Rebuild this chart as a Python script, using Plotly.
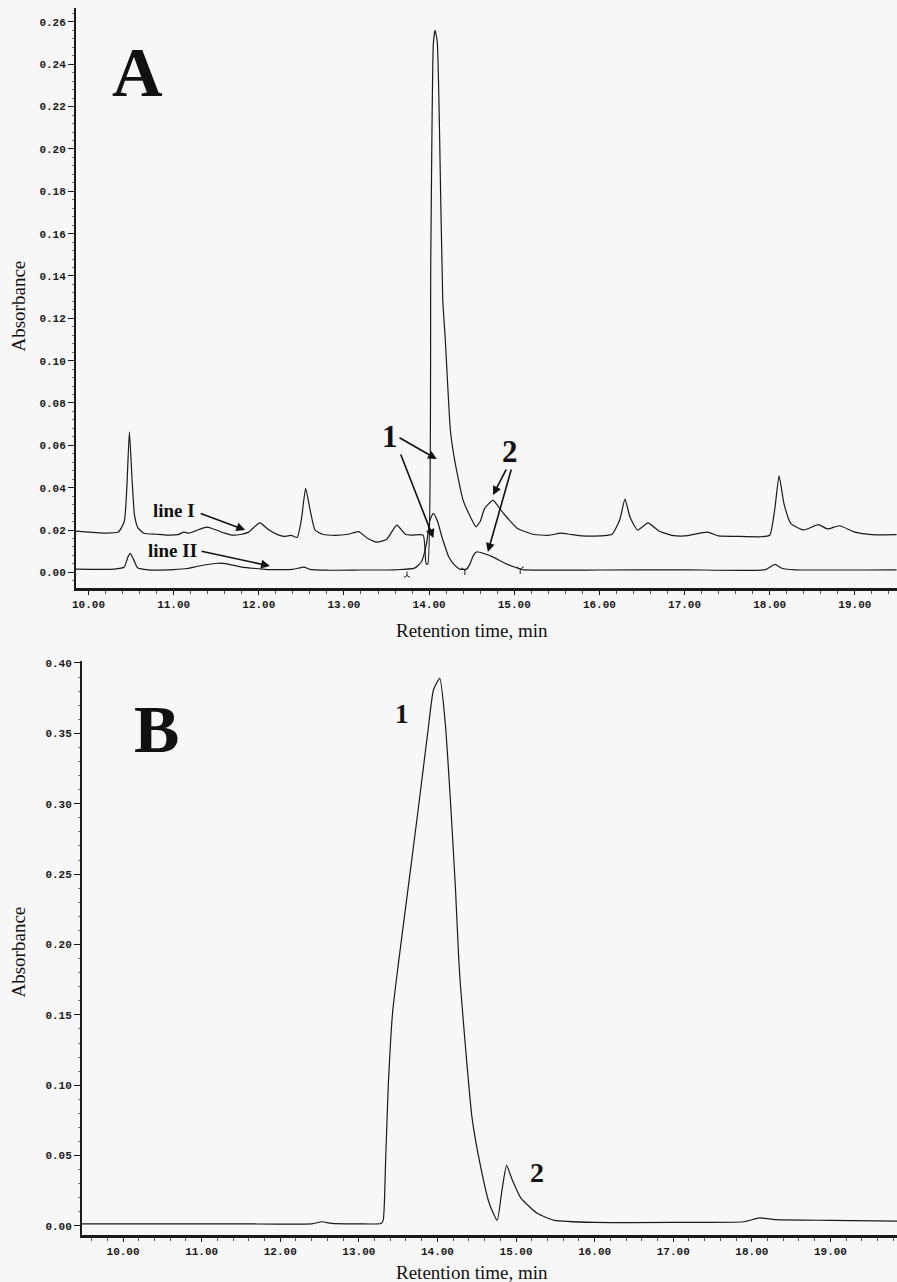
import plotly.graph_objects as go

# ---------------- Panel A data (retention time, min / absorbance) ----------------
a_time_I = [9.85, 10.0, 10.2, 10.35, 10.42, 10.45, 10.48, 10.51, 10.54, 10.58, 10.65, 10.8, 10.92,
            11.05, 11.12, 11.18, 11.25, 11.39, 11.5, 11.6, 11.68, 11.8, 11.88, 12.01, 12.12, 12.22,
            12.3, 12.38, 12.45, 12.5, 12.55, 12.6, 12.66, 12.75, 12.9, 13.05, 13.17, 13.28, 13.39,
            13.5, 13.62, 13.72, 13.8, 13.93, 13.965, 13.985, 14.02, 14.05, 14.07, 14.095, 14.12, 14.16,
            14.19, 14.25, 14.3, 14.4, 14.5, 14.55, 14.6, 14.65, 14.75, 14.87, 15.03, 15.22, 15.4,
            15.55, 15.65, 15.8, 16.0, 16.15, 16.24, 16.3, 16.36, 16.45, 16.57, 16.7, 16.85, 17.0,
            17.27, 17.4, 17.6, 17.9, 18.0, 18.06, 18.11, 18.17, 18.25, 18.4, 18.57, 18.68, 18.82,
            19.0, 19.2, 19.49]
a_abs_I = [0.0195, 0.019, 0.0185, 0.019, 0.024, 0.040, 0.0664, 0.045, 0.027, 0.021, 0.0185, 0.018, 0.0176,
           0.0178, 0.019, 0.0185, 0.0195, 0.0214, 0.020, 0.0185, 0.0176, 0.018, 0.019, 0.0234, 0.020, 0.0178,
           0.017, 0.0175, 0.0165, 0.025, 0.0397, 0.030, 0.020, 0.018, 0.0175, 0.018, 0.0192, 0.016, 0.0143,
           0.0155, 0.0223, 0.018, 0.0176, 0.0176, 0.004, 0.004, 0.15, 0.25, 0.256, 0.251, 0.2136, 0.129,
           0.110, 0.067, 0.053, 0.034, 0.025, 0.0215, 0.024, 0.030, 0.034, 0.028, 0.021, 0.018, 0.0175,
           0.0185, 0.018, 0.0172, 0.0172, 0.018, 0.025, 0.0346, 0.026, 0.020, 0.0234, 0.0195, 0.0175, 0.0172,
           0.019, 0.0172, 0.017, 0.0168, 0.0175, 0.030, 0.0456, 0.032, 0.023, 0.020, 0.0225, 0.0205, 0.022,
           0.019, 0.0178, 0.0178]

a_time_II = [9.85, 10.3, 10.42, 10.46, 10.49, 10.53, 10.58, 10.7, 11.0, 11.16, 11.3, 11.52, 11.65, 11.8,
             12.0, 12.1, 12.4, 12.53, 12.6, 12.8, 13.2, 13.6, 13.83, 13.91, 13.97, 14.01, 14.05, 14.1,
             14.15, 14.23, 14.3, 14.36, 14.44, 14.48, 14.52, 14.56, 14.65, 14.74, 14.89, 15.0, 15.1,
             16.0, 17.0, 17.95, 18.06, 18.15, 18.3, 19.49]
a_abs_II = [0.0015, 0.0015, 0.0025, 0.007, 0.009, 0.006, 0.002, 0.0012, 0.0013, 0.0018, 0.003, 0.0043, 0.0038, 0.0025,
            0.0017, 0.0013, 0.0014, 0.0025, 0.0014, 0.001, 0.0011, 0.0012, 0.002, 0.005, 0.0137, 0.0247, 0.0279, 0.024,
            0.0168, 0.0074, 0.0034, 0.0015, 0.0015, 0.004, 0.008, 0.0097, 0.0088, 0.0074, 0.0043, 0.0025, 0.0013,
            0.0011, 0.0012, 0.0013, 0.0038, 0.0018, 0.0012, 0.0012]

# integration marks on line II
a_mark_caret_t = [13.74]
a_mark_caret_v = [-0.0015]
a_mark_y_t = [14.42, 15.07]
a_mark_y_v = [0.0010, 0.0015]

# ---------------- Panel B data ----------------
b_time = [9.478, 10.5, 11.5, 12.4, 12.53, 12.65, 13.0, 13.28, 13.31, 13.34, 13.375, 13.43, 13.5, 13.65,
          13.76, 13.88, 13.95, 14.03, 14.1, 14.17, 14.23, 14.27, 14.29, 14.36, 14.44, 14.55, 14.66,
          14.76, 14.82, 14.88, 14.95, 15.06, 15.27, 15.49, 16.0, 17.0, 17.9, 18.1, 18.3, 19.0, 19.847]
b_abs = [0.0015, 0.0015, 0.0015, 0.0015, 0.003, 0.0018, 0.0015, 0.0018, 0.004, 0.045, 0.10, 0.152, 0.185, 0.25,
         0.298, 0.352, 0.381, 0.389, 0.357, 0.298, 0.239, 0.191, 0.173, 0.125, 0.077, 0.042, 0.016,
         0.004, 0.025, 0.043, 0.033, 0.020, 0.009, 0.004, 0.0025, 0.0025, 0.003, 0.0057, 0.0045, 0.004, 0.0035]

# ---------------- figure ----------------
W, H = 897, 1282
LINE = "#1a1a1a"
BG = "#f7f7f7"
TICKFONT = dict(family="Liberation Mono, Courier New, monospace", size=11, color="#1a1a1a", weight="bold")
SERIF = "Liberation Serif, Times New Roman, serif"

fig = go.Figure()
fig.add_trace(go.Scatter(x=a_time_I, y=a_abs_I, mode="lines", xaxis="x", yaxis="y",
                         line=dict(color=LINE, width=1.2, shape="spline", smoothing=0.5)))
fig.add_trace(go.Scatter(x=a_time_II, y=a_abs_II, mode="lines", xaxis="x", yaxis="y",
                         line=dict(color=LINE, width=1.2, shape="spline", smoothing=0.5)))
fig.add_trace(go.Scatter(x=a_mark_caret_t, y=a_mark_caret_v, mode="markers", xaxis="x", yaxis="y",
                         marker=dict(symbol="y-up", size=5, line=dict(color=LINE, width=1), color=LINE)))
fig.add_trace(go.Scatter(x=a_mark_y_t, y=a_mark_y_v, mode="markers", xaxis="x", yaxis="y",
                         marker=dict(symbol="y-down", size=6, line=dict(color=LINE, width=1), color=LINE)))
fig.add_trace(go.Scatter(x=b_time, y=b_abs, mode="lines", xaxis="x2", yaxis="y2",
                         line=dict(color=LINE, width=1.2, shape="spline", smoothing=0.5)))

def xax(domain, rng):
    return dict(domain=domain, range=rng, showgrid=False, zeroline=False, showline=True,
                automargin=False,
                linecolor=LINE, linewidth=3, ticks="outside", ticklen=4, tickwidth=1,
                tickcolor=LINE, dtick=1, tick0=10, tickformat=".2f", tickfont=TICKFONT,
                minor=dict(dtick=0.2, ticks="outside", ticklen=3, tickwidth=1, tickcolor="#555"))

def yax(domain, rng, dtick, minor):
    return dict(domain=domain, range=rng, showgrid=False, zeroline=False, showline=True,
                automargin=False,
                linecolor=LINE, linewidth=2, ticks="outside", ticklen=6, tickwidth=1,
                tickcolor=LINE, dtick=dtick, tick0=0, tickformat=".2f", tickfont=TICKFONT,
                minor=dict(dtick=minor, ticks="outside", ticklen=2, tickwidth=1, tickcolor="#777"))

fig.update_layout(
    width=W, height=H, margin=dict(l=0, r=0, t=0, b=0, autoexpand=False),
    paper_bgcolor=BG, plot_bgcolor=BG, showlegend=False,
    xaxis=dict(xax([76 / W, 1.0], [9.853, 19.495]), anchor="y"),
    yaxis=dict(yax([1 - 588 / H, 1 - 8 / H], [-0.0074, 0.2666], 0.02, 0.004), anchor="x"),
    xaxis2=dict(xax([82 / W, 1.0], [9.478, 19.847]), anchor="y2"),
    yaxis2=dict(yax([1 - 1235 / H, 1 - 661 / H], [-0.0064, 0.4014], 0.05, 0.01), anchor="x2"),
)

ann = []
# Axis titles
for yc in (306, 952):
    ann.append(dict(text="Absorbance", x=17.5 / W, y=1 - yc / H, xref="paper", yref="paper",
                    xanchor="center", yanchor="middle",
                    textangle=-90, showarrow=False, font=dict(family=SERIF, size=19, color="#111")))
for yc in (631, 1272):
    ann.append(dict(text="Retention time, min", x=472 / W, y=1 - yc / H, xref="paper", yref="paper",
                    xanchor="center", yanchor="middle",
                    showarrow=False, font=dict(family=SERIF, size=19, color="#111")))

# Panel letters and peak numbers
bold = dict(family=SERIF, color="#111")
def label(text, x, y, size, xr="x", yr="y"):
    ann.append(dict(text=text, x=x, y=y, xref=xr, yref=yr, showarrow=False,
                    xanchor="center", yanchor="middle", font=dict(size=size, **bold)))

label("<b>A</b>", 10.57, 0.236, 70)
label("<b>B</b>", 10.42, 0.353, 68, "x2", "y2")
label("<b>1</b>", 13.54, 0.064, 31)
label("<b>2</b>", 14.95, 0.0573, 31)
label("<b>1</b>", 13.55, 0.364, 27, "x2", "y2")
label("<b>2</b>", 15.27, 0.038, 28, "x2", "y2")
label("<b>line I</b>", 11.004, 0.0294, 19)
label("<b>line II</b>", 10.99, 0.0101, 19)

# arrows: (tail t, tail v, head t, head v)
arrows = [
    (13.635, 0.0640, 14.09, 0.0535),
    (13.66, 0.0564, 14.05, 0.0162),
    (14.915, 0.0493, 14.75, 0.0365),
    (14.97, 0.0493, 14.69, 0.0096),
    (11.30, 0.0280, 11.84, 0.0200),
    (11.31, 0.0101, 12.13, 0.0030),
]
for at, av, ht, hv in arrows:
    ann.append(dict(x=ht, y=hv, ax=at, ay=av, xref="x", yref="y", axref="x", ayref="y",
                    text="", showarrow=True, arrowhead=2, arrowsize=1.1, arrowwidth=1.6,
                    arrowcolor="#111", standoff=0, startstandoff=0))

fig.update_layout(annotations=ann)
fig.write_html("out.html", config={"displayModeBar": False},
               post_script="document.body.style.margin='0';document.body.style.padding='0';"
                           "document.body.style.overflow='hidden';"
                           "document.documentElement.style.overflow='hidden';")
